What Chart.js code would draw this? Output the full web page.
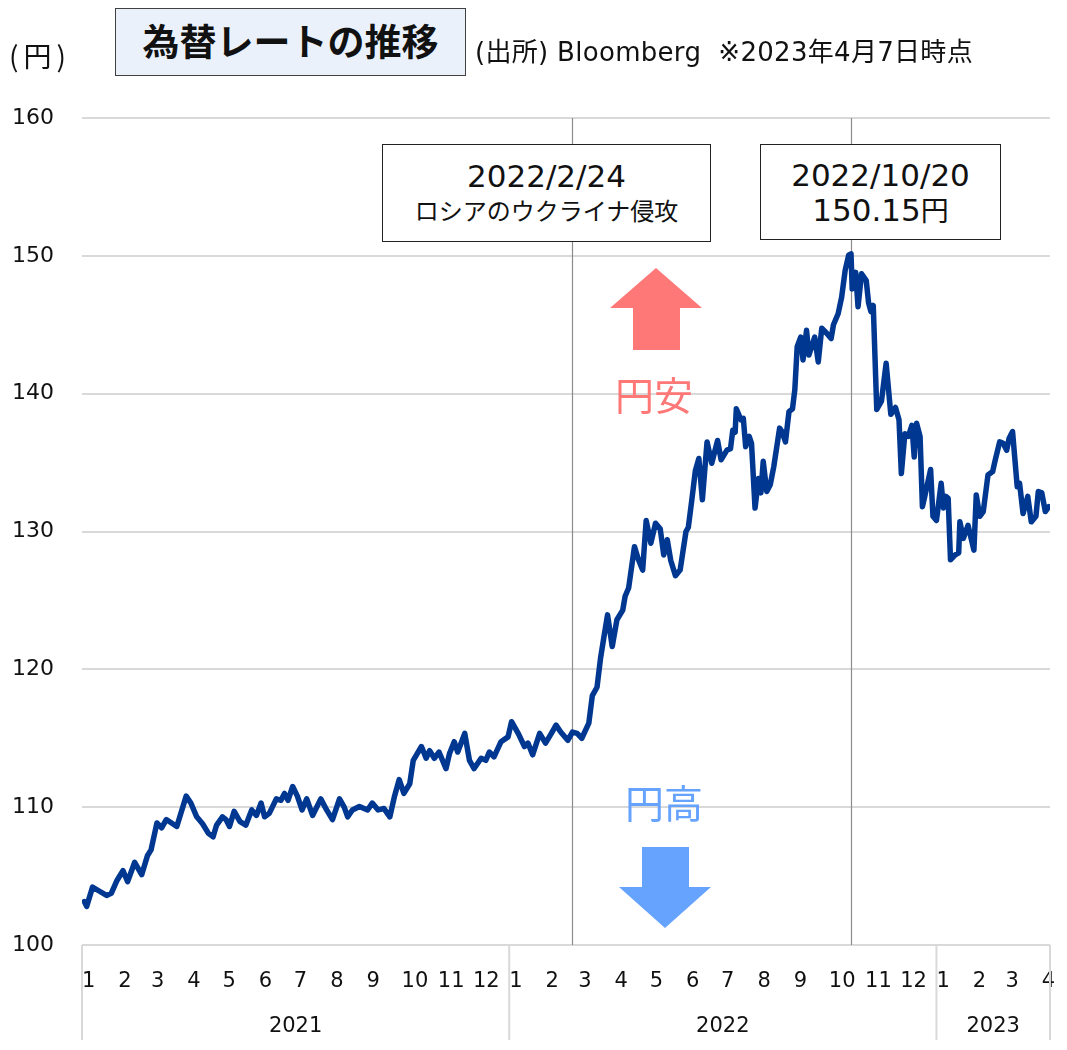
<!DOCTYPE html>
<html lang="ja">
<head>
<meta charset="utf-8">
<title>為替レートの推移</title>
<script src="https://cdn.jsdelivr.net/npm/chart.js@4.4.1/dist/chart.umd.min.js"></script>
<style>
  html, body { margin: 0; padding: 0; background: #fff; }
  #wrap { position: relative; width: 1067px; height: 1050px; color: #111;
          font-family: "DejaVu Sans", "Noto Sans CJK JP", sans-serif; }
  #wrap canvas { position: absolute; left: 0; top: 0; }
  .lbl { position: absolute; white-space: nowrap; line-height: 1; }
  .jp { font-family: "Noto Sans CJK JP", sans-serif; }
  .box { position: absolute; background: #fff; border: 1.5px solid #222; box-sizing: border-box; text-align: center; }
  .box .l1 { font-size: 31px; line-height: 34px; }
  .box .l2 { font-size: 24px; line-height: 34px; font-family: "Noto Sans CJK JP", sans-serif; }
</style>
</head>
<body>
<div id="wrap">
  <canvas id="fx"></canvas>

  <div class="lbl jp" style="left:9px; top:41px; font-size:28px; letter-spacing:5px;">(円)</div>
  <div class="lbl jp" style="left:115px; top:8px; width:351px; height:68px; box-sizing:border-box;
       background:#eaf1fb; border:1.5px solid #404040; font-size:37px; font-weight:bold; line-height:62px; text-align:center;">為替レートの推移</div>
  <div class="lbl" style="left:475px; top:39px; font-size:26px; letter-spacing:0.3px;">(出所)&nbsp;Bloomberg&nbsp;&nbsp;※2023年4月7日時点</div>

  <div class="box" style="left:382px; top:144px; width:329px; height:98px; padding-top:14px;">
    <div class="l1">2022/2/24</div>
    <div class="l2">ロシアのウクライナ侵攻</div>
  </div>
  <div class="box" style="left:760px; top:144px; width:241px; height:96px; padding-top:13px;">
    <div class="l1">2022/10/20</div>
    <div class="l1">150.15<span class="jp" style="font-size:28px;">円</span></div>
  </div>

  <div class="lbl jp" style="left:615px; top:374px; font-size:39px; color:#ff7878;">円安</div>
  <div class="lbl jp" style="left:625px; top:782px; font-size:39px; color:#66a3ff;">円高</div>
</div>

<script>
// USD/JPY close (days counted from 2021-01-01)
const days = [
  2, 4, 9, 15, 21, 25, 30, 35, 39, 45,
  51, 56, 59, 64, 68, 72, 81, 89, 93, 98,
  103, 108, 112, 115, 120, 123, 126, 130, 135, 140,
  145, 149, 153, 156, 160, 166, 170, 173, 176, 180,
  184, 188, 192, 197, 204, 209, 214, 220, 224, 227,
  231, 237, 244, 248, 253, 258, 263, 267, 271, 275,
  280, 283, 290, 294, 297, 301, 305, 311, 314, 318,
  321, 327, 331, 335, 341, 345, 348, 352, 358, 364,
  367, 373, 378, 381, 385, 391, 396, 401, 405, 409,
  415, 419, 423, 427, 433, 436, 440, 443, 446, 449,
  453, 457, 462, 464, 467, 472, 475, 479, 482, 486,
  490, 494, 497, 500, 503, 507, 511, 516, 518, 521,
  524, 527, 530, 534, 538, 543, 546, 551, 554, 556,
  558, 559, 563, 565, 567, 570, 572, 575, 578, 580,
  582, 585, 588, 591, 596, 598, 601, 604, 607, 609,
  611, 614, 616, 619, 621, 626, 629, 632, 636, 640,
  642, 646, 649, 652, 655, 657, 658, 661, 663, 666,
  670, 672, 674, 676, 679, 683, 687, 691, 695, 698,
  700, 703, 706, 709, 711, 713, 716, 718, 720, 725,
  727, 730, 734, 736, 738, 740, 742, 746, 749, 750,
  753, 757, 762, 764, 767, 770, 774, 778, 780, 784,
  787, 790, 792, 795, 799, 801, 804, 808, 811, 815,
  817, 820, 823, 826
];
const rates = [
  103.15, 102.8, 104.2, 103.9, 103.6, 103.75, 104.7, 105.4, 104.6, 106.0,
  105.1, 106.5, 106.9, 108.85, 108.5, 109.1, 108.6, 110.8, 110.3, 109.3,
  108.8, 108.1, 107.85, 108.7, 109.3, 109.1, 108.6, 109.7, 108.95, 108.7,
  109.8, 109.4, 110.3, 109.3, 109.55, 110.6, 110.5, 111.0, 110.5, 111.5,
  110.8, 109.8, 110.6, 109.4, 110.6, 109.8, 109.1, 110.6, 110.0, 109.3,
  109.8, 110.05, 109.8, 110.3, 109.8, 109.9, 109.3, 110.8, 112.0, 111.0,
  111.7, 113.4, 114.4, 113.55, 114.1, 113.55, 114.0, 112.8, 113.9, 114.75,
  114.0, 115.35, 113.4, 112.8, 113.55, 113.4, 114.0, 113.65, 114.75, 115.1,
  116.2, 115.3, 114.4, 114.65, 113.8, 115.35, 114.65, 115.35, 115.95, 115.45,
  114.85, 115.45, 115.35, 115.0, 116.1, 118.1, 118.7, 120.8, 122.4, 123.95,
  121.65, 123.6, 124.3, 125.3, 125.9, 128.9, 128.05, 127.2, 130.8, 129.15,
  130.6, 130.2, 128.3, 129.4, 127.9, 126.8, 127.2, 130.0, 130.3, 132.3,
  134.4, 135.3, 132.3, 136.5, 134.95, 136.6, 135.2, 135.9, 136.0, 137.35,
  137.2, 138.9, 138.1, 138.2, 136.15, 136.9, 136.4, 131.7, 133.85, 132.8,
  135.1, 132.9, 133.4, 134.7, 137.5, 137.25, 136.5, 138.7, 138.9, 140.3,
  143.4, 144.1, 142.45, 144.6, 142.8, 144.1, 142.3, 144.75, 144.4, 144.0,
  145.0, 145.8, 147.0, 148.95, 150.05, 150.15, 147.6, 148.8, 146.3, 148.7,
  148.2, 146.6, 145.95, 146.4, 138.85, 139.45, 142.2, 138.5, 139.0, 138.1,
  134.2, 137.1, 136.9, 137.7, 135.4, 137.85, 136.9, 131.8, 132.55, 134.5,
  131.1, 130.8, 133.5, 131.7, 132.55, 132.4, 127.95, 128.3, 128.45, 130.7,
  129.5, 130.45, 128.65, 132.65, 131.1, 131.45, 134.1, 134.35, 135.1, 136.5,
  136.4, 135.9, 136.75, 137.25, 133.25, 133.5, 131.3, 132.55, 130.7, 131.1,
  132.9, 132.8, 131.45, 131.8
];

const years = [2021, 2022, 2023];
const lastMonth = { 2023: 4 };           // axis runs to April 2023
const eventDates = ["2022-02-24", "2022-10-20"];
const yTicks = [100, 110, 120, 130, 140, 150, 160];

const DAY = 86400000;
const base = Date.UTC(2021, 0, 1);
const dayOf = (s) => (Date.parse(s + "T00:00:00Z") - base) / DAY;

// month ticks at the first of each month
const monthTicks = [];
years.forEach((y) => {
  const n = lastMonth[y] || 12;
  for (let m = 1; m <= n; m++) monthTicks.push({ value: (Date.UTC(y, m - 1, 1) - base) / DAY, label: String(m) });
});
const yearStarts = years.map((y) => (Date.UTC(y, 0, 1) - base) / DAY);

const LINE = "#003891";
const GRID = "#d9d9d9";

const decor = {
  id: "decor",
  beforeDatasetsDraw(chart) {
    const { ctx, chartArea: a, scales: { x } } = chart;
    ctx.save();
    ctx.strokeStyle = "#8c8c8c";
    ctx.lineWidth = 1.2;
    eventDates.forEach((d) => {
      const px = Math.round(x.getPixelForValue(dayOf(d))) + 0.5;
      ctx.beginPath(); ctx.moveTo(px, a.top); ctx.lineTo(px, a.bottom); ctx.stroke();
    });
    ctx.restore();
  },
  afterDraw(chart) {
    const { ctx, chartArea: a, scales: { x } } = chart;
    ctx.save();
    // year separators + labels under the month row
    const edges = yearStarts.map((d) => x.getPixelForValue(d)).concat([a.right]);
    ctx.strokeStyle = GRID; ctx.lineWidth = 2;
    edges.forEach((px) => { ctx.beginPath(); ctx.moveTo(px, a.bottom); ctx.lineTo(px, a.bottom + 95); ctx.stroke(); });
    ctx.fillStyle = "#111";
    ctx.font = "21px 'DejaVu Sans'";
    ctx.textAlign = "center"; ctx.textBaseline = "middle";
    years.forEach((y, i) => ctx.fillText(String(y), (edges[i] + edges[i + 1]) / 2, a.bottom + 82));

    // 円安 / 円高 arrows
    ctx.fillStyle = "#ff7878";
    ctx.beginPath();
    ctx.moveTo(656, 268); ctx.lineTo(702, 308); ctx.lineTo(680, 308); ctx.lineTo(680, 350);
    ctx.lineTo(633, 350); ctx.lineTo(633, 308); ctx.lineTo(610, 308); ctx.closePath(); ctx.fill();
    ctx.fillStyle = "#66a3ff";
    ctx.beginPath();
    ctx.moveTo(642, 847); ctx.lineTo(689, 847); ctx.lineTo(689, 887); ctx.lineTo(711, 887);
    ctx.lineTo(665, 928); ctx.lineTo(619, 887); ctx.lineTo(642, 887); ctx.closePath(); ctx.fill();
    ctx.restore();
  },
};

new Chart(document.getElementById("fx"), {
  type: "line",
  data: {
    datasets: [{
      data: days.map((d, i) => ({ x: d, y: rates[i] })),
      borderColor: LINE, borderWidth: 5.5, pointRadius: 0, tension: 0,
      borderJoinStyle: "round", borderCapStyle: "round", fill: false,
    }],
  },
  options: {
    responsive: true, maintainAspectRatio: false, animation: false,
    layout: { padding: { top: 118, right: 17, left: 0, bottom: 0 } },
    plugins: { legend: { display: false }, tooltip: { enabled: false } },
    scales: {
      x: {
        type: "linear", min: 0, max: 827,
        afterBuildTicks: (s) => { s.ticks = monthTicks.map((t) => ({ value: t.value })); },
        afterFit: (s) => { s.height = 105; s.paddingLeft = 0; s.paddingRight = 0; },
        grid: { display: false }, border: { display: false },
        ticks: {
          autoSkip: false, maxRotation: 0, align: "start", padding: 16, color: "#111",
          font: { family: "DejaVu Sans", size: 21 },
          callback: (v, i) => monthTicks[i].label,
        },
      },
      y: {
        min: 100, max: 160,
        afterBuildTicks: (s) => { s.ticks = yTicks.map((v) => ({ value: v })); },
        afterFit: (s) => { s.width = 82; s.paddingTop = 0; s.paddingBottom = 0; },
        grid: { color: GRID, lineWidth: 2, drawTicks: false }, border: { display: false },
        ticks: { padding: 28, color: "#111", font: { family: "DejaVu Sans", size: 22 } },
      },
    },
  },
  plugins: [decor],
});
</script>
</body>
</html>
